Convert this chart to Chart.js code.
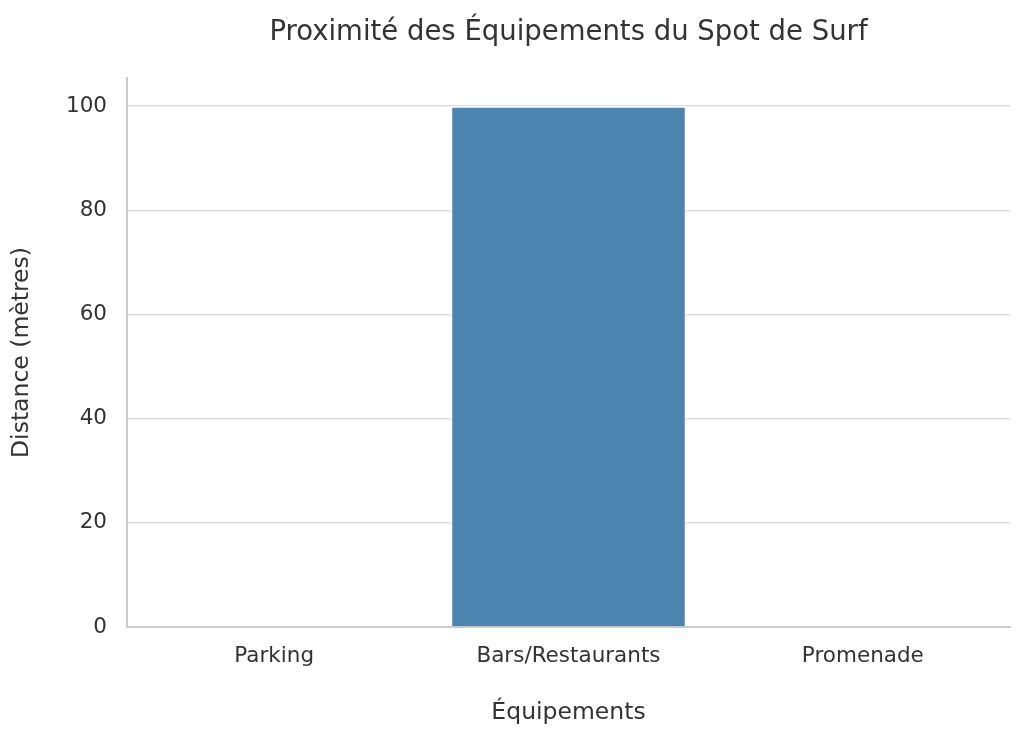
<!DOCTYPE html>
<html>
<head>
<meta charset="utf-8">
<script src="https://cdn.jsdelivr.net/npm/chart.js@4/dist/chart.umd.min.js"></script>
<style>
  html, body { margin: 0; padding: 0; background: #fff; }
  #surfChart { display: block; }
</style>
</head>
<body>
<canvas id="surfChart" width="1024" height="738"></canvas>
<script>
const equipements = ['Parking', 'Bars/Restaurants', 'Promenade'];
const distances = [0, 100, 0];
const yTicksMax = 105.4;

document.addEventListener('DOMContentLoaded', function () {
    Chart.defaults.font.family = "'DejaVu Sans', sans-serif";
    Chart.defaults.color = '#333333';

    new Chart(
        document.getElementById('surfChart'),
        {
            type: 'bar',
            data: {
                labels: equipements,
                datasets: [{
                    label: 'Distance (mètres)',
                    data: distances,
                    backgroundColor: '#4a84af',
                    borderColor: '#ffffff',
                    borderWidth: 1.5,
                    barPercentage: 0.8,
                    categoryPercentage: 1
                }]
            },
            options: {
                responsive: false,
                animation: false,
                layout: {
                    padding: { left: 0, right: 14, top: 0, bottom: 0 }
                },
                plugins: {
                    legend: { display: false },
                    tooltip: { enabled: false },
                    title: {
                        display: true,
                        text: 'Proximité des Équipements du Spot de Surf',
                        fullSize: false,
                        color: '#333333',
                        font: { size: 27.5, weight: 'normal' },
                        padding: { top: 16, bottom: 29 }
                    }
                },
                scales: {
                    x: {
                        grid: { display: false, drawTicks: false },
                        border: { display: true, color: '#cccccc', width: 2 },
                        ticks: { padding: 17, font: { size: 21.5 }, color: '#333333' },
                        title: {
                            display: true,
                            text: 'Équipements',
                            font: { size: 23.5 },
                            color: '#333333',
                            padding: { top: 0, bottom: 11 }
                        },
                        afterFit: function (scale) { scale.height = 111; }
                    },
                    y: {
                        min: 0,
                        max: yTicksMax,
                        grid: { color: '#dddddd', lineWidth: 1.5, drawTicks: false },
                        border: { display: true, color: '#cccccc', width: 2 },
                        ticks: {
                            stepSize: 20,
                            includeBounds: false,
                            padding: 20,
                            font: { size: 21.5 },
                            color: '#333333'
                        },
                        title: {
                            display: true,
                            text: 'Distance (mètres)',
                            font: { size: 23.5 },
                            color: '#333333',
                            padding: { top: 8, bottom: 0 }
                        },
                        afterFit: function (scale) { scale.width = 127; }
                    }
                }
            }
        }
    );
});
</script>
</body>
</html>
